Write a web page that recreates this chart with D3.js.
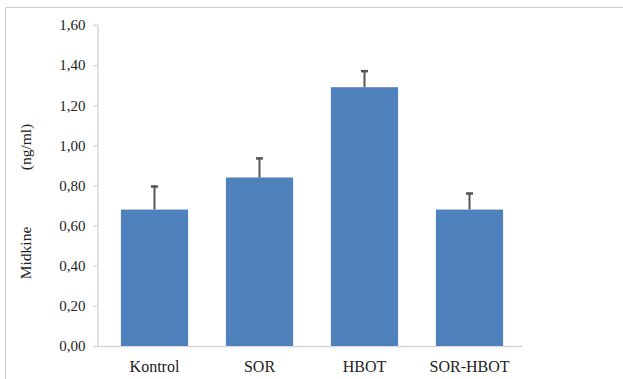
<!DOCTYPE html>
<html><head><meta charset="utf-8">
<script src="https://cdn.jsdelivr.net/npm/d3@7"></script>
</head><body style="margin:0">
<script>
const categories = ["Kontrol", "SOR", "HBOT", "SOR-HBOT"];
const values = [0.68, 0.84, 1.29, 0.68];
const errors = [0.12, 0.10, 0.085, 0.085];
const yTicks = [0, 0.2, 0.4, 0.6, 0.8, 1.0, 1.2, 1.4, 1.6];

const W = 623, H = 379;
const svg = d3.select("body").append("svg").attr("width", W).attr("height", H).style("display", "block")
  .style("font-family", '"Liberation Serif"').style("font-size", "15px");

// frame
svg.append("line").attr("x1", 5.5).attr("x2", W).attr("y1", 7.5).attr("y2", 7.5).attr("stroke", "#cfcfcf").attr("stroke-width", 1.2);
svg.append("line").attr("x1", 5.5).attr("x2", 5.5).attr("y1", 7.5).attr("y2", H).attr("stroke", "#cfcfcf").attr("stroke-width", 1.2);

const x = d3.scaleBand().domain(categories).range([102, 522]).paddingInner(0.36).paddingOuter(0.18);
const y = d3.scaleLinear().domain([0, 1.6]).range([346, 25]);
const fmt = d => d3.format(".2f")(d).replace(".", ",");

// y axis
const yAxis = svg.append("g").attr("transform", "translate(97.5,0)")
  .call(d3.axisLeft(y).tickValues(yTicks).tickFormat(fmt).tickSize(4).tickPadding(8));
yAxis.attr("font-family", null).attr("font-size", null);
yAxis.select(".domain").attr("stroke", "#d9d9d9").attr("stroke-width", 1.5);
yAxis.selectAll(".tick line").attr("stroke", "#d9d9d9").attr("stroke-width", 1.5);
yAxis.selectAll(".tick text").attr("fill", "#222");

// x axis
const xAxis = svg.append("g").attr("transform", "translate(0,346.5)")
  .call(d3.axisBottom(x).tickSize(0).tickPadding(14));
xAxis.attr("font-family", null).attr("font-size", null);
xAxis.select(".domain").attr("d", "M97,0H522").attr("stroke", "#d9d9d9").attr("stroke-width", 1.5);
xAxis.selectAll(".tick text").attr("fill", "#222").style("font-size", "16px");

// bars
svg.selectAll("rect.bar").data(categories).enter().append("rect").attr("class", "bar")
  .attr("x", d => x(d)).attr("width", x.bandwidth())
  .attr("y", (d, i) => y(values[i])).attr("height", (d, i) => y(0) - y(values[i]))
  .attr("fill", "#4f81bd");

// error bars
const eb = svg.selectAll("g.err").data(categories).enter().append("g").attr("class", "err");
eb.append("line")
  .attr("x1", d => x(d) + x.bandwidth() / 2).attr("x2", d => x(d) + x.bandwidth() / 2)
  .attr("y1", (d, i) => y(values[i])).attr("y2", (d, i) => y(values[i] + errors[i]))
  .attr("stroke", "#555").attr("stroke-width", 2);
eb.append("line")
  .attr("x1", d => x(d) + x.bandwidth() / 2 - 3.5).attr("x2", d => x(d) + x.bandwidth() / 2 + 3.5)
  .attr("y1", (d, i) => y(values[i] + errors[i]) + 1).attr("y2", (d, i) => y(values[i] + errors[i]) + 1)
  .attr("stroke", "#555").attr("stroke-width", 2.5);

// y labels
svg.append("text").attr("transform", "translate(31,253) rotate(-90)").attr("text-anchor", "middle")
  .attr("fill", "#222").style("font-size", "15.5px").text("Midkine");
svg.append("text").attr("transform", "translate(31,147) rotate(-90)").attr("text-anchor", "middle")
  .attr("fill", "#222").style("font-size", "15.5px").text("(ng/ml)");
</script>
</body></html>
